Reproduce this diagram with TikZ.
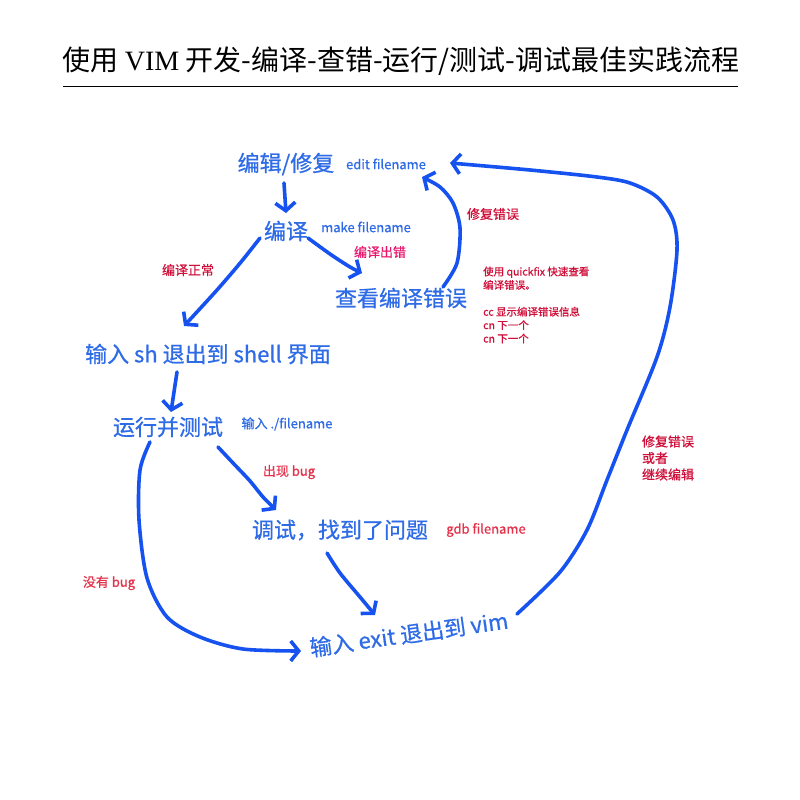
\documentclass[tikz,border=0pt]{standalone}
\usepackage{fontspec}
\setmainfont{Noto Sans CJK SC}
\newfontfamily\medfont{Noto Sans CJK SC}[FakeBold=0.7]
\newfontfamily\titleserif{Liberation Serif}
\usetikzlibrary{arrows.meta}
\definecolor{nodeblue}{HTML}{2E6BE6}
\definecolor{arrowblue}{HTML}{1652F0}
\definecolor{labred}{HTML}{D0103A}
\definecolor{bugred}{HTML}{E5324A}
\definecolor{errpink}{HTML}{E8186E}
\begin{document}
\begin{tikzpicture}[x=1pt,y=-1pt,
  stepnode/.style={text=nodeblue, font=\medfont\fontsize{22}{26}\selectfont, inner sep=0pt},
  cmd/.style={text=nodeblue, font=\medfont\fontsize{13}{16}\selectfont, inner sep=0pt},
  note/.style={text=labred, font=\medfont\fontsize{13}{16.5}\selectfont, inner sep=0pt, align=left},
  bugnote/.style={text=bugred, font=\medfont\fontsize{13}{16}\selectfont, inner sep=0pt},
  arr/.style={draw=arrowblue, line width=3.6pt, line cap=round, line join=round,
    -{Straight Barb[length=8pt,width=20pt]}}
]
\useasboundingbox (0,0) rectangle (800,800);
\fill[white] (0,0) rectangle (800,800);

% title
\node[font=\fontsize{28}{32}\selectfont, inner sep=0pt] (title) at (401,61)
  {使用 {\titleserif VIM} 开发-编译-查错-运行/测试-调试最佳实践流程};
\coordinate (ruleL) at (63,86);
\coordinate (ruleR) at (738,86);
\draw[line width=1pt] (ruleL) -- (ruleR);

% main steps
\node[stepnode] (edit) at (286,164) {编辑/修复};
\node[cmd] (editcmd) at (386,164) {edit filename};
\node[stepnode] (compile) at (286,231) {编译};
\node[cmd] (makecmd) at (366,227) {make filename};
\node[text=errpink, font=\medfont\fontsize{13}{16}\selectfont, inner sep=0pt] (cerr) at (380,252) {编译出错};
\node[stepnode] (view) at (401,298) {查看编译错误};
\node[note] (fix) at (493,214) {修复错误};
\node[note, font=\medfont\fontsize{10.5}{13.4}\selectfont] (qf) at (483,305) [anchor=west]
  {使用 quickfix 快速查看\\编译错误。\\[13.4pt]cc 显示编译错误信息\\cn 下一个\\cn 下一个};
\node[note] (cok) at (188,270) {编译正常};
\node[stepnode] (shell) at (208,354) {输入 sh 退出到 shell 界面};
\node[stepnode] (run) at (168,427) {运行并测试};
\node[cmd] (runcmd) at (287,424) {输入 ./filename};
\node[bugnote] (hasbug) at (289,472) {出现 bug};
\node[stepnode] (debug) at (340,530) {调试，找到了问题};
\node[bugnote] (gdb) at (486,530) {gdb filename};
\node[bugnote] (nobug) at (109,583) {没有 bug};
\node[stepnode, rotate=8] (exit) at (409,634) {输入 exit 退出到 vim};
\node[note] (cont) at (668,458) {修复错误\\或者\\继续编辑};

% arrow end points
\coordinate (a1s) at (284,183); \coordinate (a1e) at (286,213);
\coordinate (a2s) at (308,238); \coordinate (a2e) at (362,273);
\coordinate (a3s) at (443,287); \coordinate (a3e) at (422,177);
\coordinate (a4s) at (260,238); \coordinate (a4e) at (184,326);
\coordinate (a5s) at (177,372); \coordinate (a5e) at (171,412);
\coordinate (a6s) at (218,447); \coordinate (a6e) at (276,510);
\coordinate (a7s) at (150,442); \coordinate (a7e) at (301,651);
\coordinate (a8s) at (327,553); \coordinate (a8e) at (375,615);
\coordinate (a9s) at (517,614); \coordinate (a9e) at (450,163);

\draw[arr] (a1s) -- (a1e);
\draw[arr] plot[smooth] coordinates {(a2s) (330,254) (350,267) (a2e)};
\draw[arr] plot[smooth] coordinates {(a3s) (457,263) (460,228) (453,203) (440,187) (a3e)};
\draw[arr] plot[smooth] coordinates {(a4s) (241,262) (217,290) (a4e)};
\draw[arr] plot[smooth] coordinates {(a5s) (174,392) (a5e)};
\draw[arr] plot[smooth] coordinates {(a6s) (233,463) (250,481) (263,497) (a6e)};
\draw[arr] plot[smooth] coordinates {(a7s) (140,470) (139,520) (147,578) (167,617) (200,637) (243,649) (a7e)};
\draw[arr] plot[smooth] coordinates {(a8s) (340,573) (360,597) (a8e)};
\draw[arr] plot[smooth] coordinates {(a9s) (560,572) (587,530) (607,480) (627,430) (657,357) (670,307) (677,250) (673,220) (657,197) (630,183) (597,177) (530,170) (a9e)};
\end{tikzpicture}
\end{document}
